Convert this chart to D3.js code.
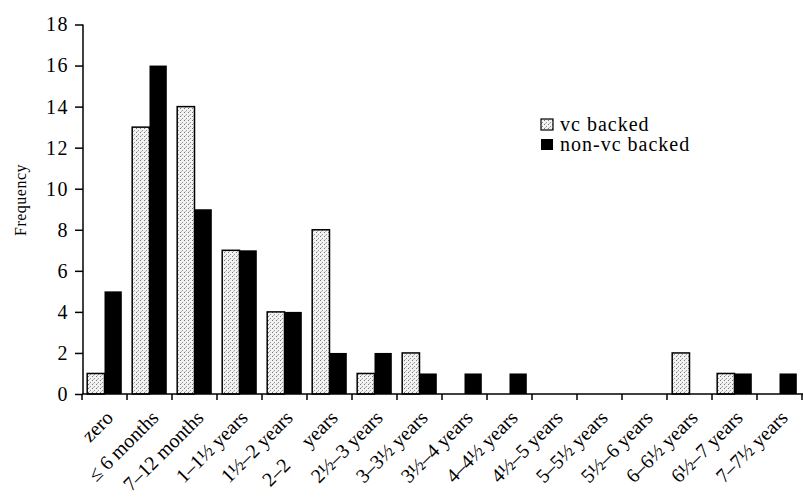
<!DOCTYPE html>
<html><head><meta charset="utf-8">
<script src="https://cdn.jsdelivr.net/npm/d3@7/dist/d3.min.js"></script>
<style>body{margin:0;background:#fff}svg{display:block}text{font-family:"Liberation Serif",serif}
#wrap{position:relative;width:803px;height:501px}
.xl{position:absolute;font-family:"Liberation Serif",serif;font-size:20px;line-height:20px;white-space:nowrap;color:#000;transform-origin:100% 100%;transform:rotate(-45deg)}</style>
</head><body><div id="wrap"><svg id="c" width="803" height="501"></svg></div>
<script>
const categories = ["zero","\u2264 6 months","7\u201312 months","1\u20131\u00bd years","1\u00bd\u20132 years","2\u20132\u00a0\u00a0\u00a0\u00a0\u00a0years","2\u00bd\u20133 years","3\u20133\u00bd years","3\u00bd\u20134 years","4\u20134\u00bd years","4\u00bd\u20135 years","5\u20135\u00bd years","5\u00bd\u20136 years","6\u20136\u00bd years","6\u00bd\u20137 years","7\u20137\u00bd years"];
const vcBacked    = [1,13,14,7,4,8,1,2,0,0,0,0,0,2,1,0];
const nonVcBacked = [5,16,9,7,4,2,2,1,1,1,0,0,0,0,1,1];
const seriesNames = ["vc backed","non-vc backed"];
const yTicks = [0,2,4,6,8,10,12,14,16,18];

const svg = d3.select("#c");
const defs = svg.append("defs");
const pat = defs.append("pattern").attr("id","dots").attr("patternUnits","userSpaceOnUse").attr("width",4).attr("height",4);
pat.append("rect").attr("width",4).attr("height",4).attr("fill","#f2f2f2");
pat.append("rect").attr("x",0).attr("y",0).attr("width",1).attr("height",1).attr("fill","#777");
pat.append("rect").attr("x",2).attr("y",2).attr("width",1).attr("height",1).attr("fill","#999");
pat.append("rect").attr("x",1).attr("y",3).attr("width",1).attr("height",1).attr("fill","#bbb");

const x = d3.scaleBand().domain(categories).range([82,802]).paddingInner(0).paddingOuter(0);
const xs = d3.scaleBand().domain(seriesNames).range([0,x.bandwidth()]).paddingInner(0).paddingOuter(0.3);
const y = d3.scaleLinear().domain([0,18]).range([394,24.5]);

const data = categories.map((c,i)=>({c, vals:[vcBacked[i], nonVcBacked[i]]}));
const g = svg.append("g");
data.forEach(d=>{
  d.vals.forEach((v,j)=>{
    if (v<=0) return;
    const r = g.append("rect")
      .attr("x", x(d.c)+xs(seriesNames[j]))
      .attr("y", y(v))
      .attr("width", xs.bandwidth())
      .attr("height", y(0)-y(v));
    if (j===0) r.attr("fill","url(#dots)").attr("stroke","#000").attr("stroke-width",1.5);
    else r.attr("fill","#000");
  });
});

// y axis
const ya = svg.append("g").attr("transform","translate(83,0)")
  .call(d3.axisLeft(y).tickValues(yTicks).tickSize(8).tickPadding(6).tickFormat(d3.format("d")));
ya.attr("font-size",20);
ya.select(".domain").attr("stroke","#000").attr("stroke-width",1.5).attr("d","M0,24.5V394");
ya.selectAll(".tick line").attr("stroke","#000").attr("stroke-width",1.5);
ya.selectAll(".tick text").attr("fill","#000").attr("letter-spacing","1.5px");

// x axis
const xa = svg.append("g").attr("transform","translate(0,394)");
xa.append("line").attr("x1",82).attr("x2",803).attr("stroke","#000").attr("stroke-width",1.5);
const bounds = categories.map(c=>x(c)).concat([x(categories[categories.length-1])+x.bandwidth()]);
xa.selectAll("line.t").data(bounds).join("line").attr("class","t")
  .attr("x1",d=>d).attr("x2",d=>d).attr("y1",0).attr("y2",6).attr("stroke","#000").attr("stroke-width",1.5);

// x labels: HTML, rotated -45deg about their right/bottom corner
d3.select("#wrap").selectAll("div.xl").data(categories).join("div").attr("class","xl")
  .style("right", d => (803 - (x(d)+x.bandwidth()/2+12)) + "px")
  .style("top", d => (418 - 17) + "px")
  .text(d => d);

// y label
svg.append("text").attr("x",26).attr("y",200).attr("transform","rotate(-90,26,200)").attr("text-anchor","middle")
  .attr("font-size",16).attr("letter-spacing","0.5px").text("Frequency");

// legend
const leg = svg.append("g");
seriesNames.forEach((s,i)=>{
  const yy = 119 + i*20;
  const r = leg.append("rect").attr("x",541).attr("y",yy).attr("width",12).attr("height",11);
  if(i===0) r.attr("fill","url(#dots)").attr("stroke","#000").attr("stroke-width",1.2);
  else r.attr("fill","#000");
  leg.append("text").attr("x",560).attr("y",yy+12).attr("font-size",20).attr("letter-spacing","1px").text(s);
});
</script></body></html>
